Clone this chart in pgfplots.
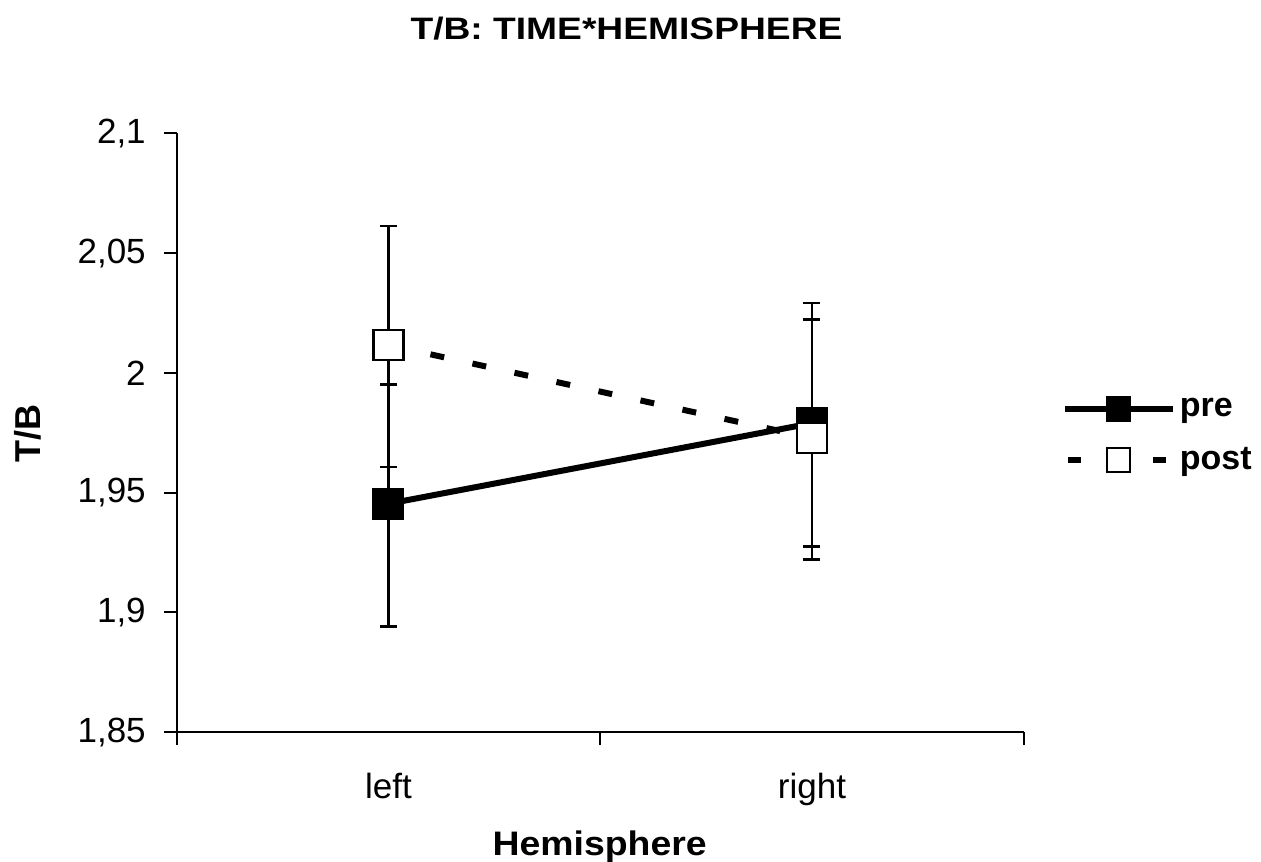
\documentclass[border=0pt]{standalone}
\usepackage{pgfplots}
\pgfplotsset{compat=1.18}
\usepackage{pgfplotstable}
\usepackage{fontspec}
\setmainfont{Liberation Sans}
\usepackage{graphicx}

\pgfplotstableread{
x y ep em
0 1.9454 0.0498 0.0513
1 1.9790 0.0501 0.0515
}\predata
\pgfplotstableread{
x y ep em
0 2.0116 0.0498 0.0510
1 1.9728 0.0495 0.0506
}\postdata

\begin{document}
\begin{tikzpicture}
\useasboundingbox (0,0) rectangle (630.5pt,430.5pt);
\begin{axis}[
  at={(88.35pt,64.35pt)}, anchor=south west,
  scale only axis, width=423.5pt, height=299.5pt,
  xmin=-0.5, xmax=1.5, ymin=1.85, ymax=2.1,
  axis x line*=bottom, axis y line*=left,
  axis line style={line width=1pt, -, black},
  tick style={line width=1pt, black},
  major tick length=6.3pt, tick align=outside,
  xtick={-0.5,0.5,1.5}, xticklabels={},
  extra x ticks={0,1}, extra x tick labels={left,right},
  extra x tick style={major tick length=0pt, xticklabel style={yshift=-17pt}},
  ytick={1.85,1.9,1.95,2,2.05,2.1},
  yticklabels={{1,85},{1,9},{1,95},{2},{2,05},{2,1}},
  ticklabel style={font=\fontsize{17.5}{20}\selectfont},
  yticklabel style={inner sep=0pt, xshift=-9pt},
  legend style={at={(axis description cs:1.045,0.496)}, anchor=west, draw=none, fill=none,
    inner sep=0pt, outer sep=0pt, row sep=10pt, nodes={inner sep=2pt},
    font=\bfseries\fontsize{17}{20}\selectfont},
  legend cell align=left,
]
\addplot[black, line width=3pt, mark=square*, mark size=7.5pt,
  mark options={solid, fill=black, line width=1pt},
  legend image code/.code={
    \draw[black, solid, line width=3pt] (0pt,0pt) -- (54pt,0pt);
    \filldraw[solid, draw=black, fill=black, line width=1pt] (21.25pt,-6pt) rectangle (32.75pt,6pt);
  },
  error bars/.cd, y dir=both, y explicit,
  error bar style={line width=1.2pt, solid},
  error mark options={rotate=90, mark size=4.25pt, line width=1.2pt}]
  table[x=x, y=y, y error plus=ep, y error minus=em] {\predata};
\addlegendentry{pre}
\addplot[black, line width=3pt, dash pattern=on 7pt off 14.5pt, mark=square*, mark size=7.5pt,
  mark options={solid, fill=white, line width=1.2pt},
  legend image code/.code={
    \path[draw=none, fill=none] (0pt,0pt) -- (54pt,0pt);
    \draw[black, solid, line width=3pt] (1.5pt,0pt) -- (8pt,0pt);
    \draw[black, solid, line width=3pt] (44pt,0pt) -- (50.5pt,0pt);
    \filldraw[solid, draw=black, fill=white, line width=1pt] (21.25pt,-6pt) rectangle (32.75pt,6pt);
  },
  error bars/.cd, y dir=both, y explicit,
  error bar style={line width=1.2pt, solid},
  error mark options={rotate=90, mark size=4.25pt, line width=1.2pt}]
  table[x=x, y=y, y error plus=ep, y error minus=em] {\postdata};
\addlegendentry{post}
\end{axis}
\node[anchor=base] at (313.25pt,410.5pt) {\scalebox{1.2}[1]{\bfseries\fontsize{15.5}{18}\selectfont T/B: TIME*HEMISPHERE}};
\node[anchor=base] at (299.85pt,3pt) {\scalebox{1.1}[1]{\bfseries\fontsize{17}{20}\selectfont Hemisphere}};
\node[anchor=base, rotate=90] at (20pt,213.75pt) {\bfseries\fontsize{18}{20}\selectfont T/B};
\end{tikzpicture}
\end{document}
